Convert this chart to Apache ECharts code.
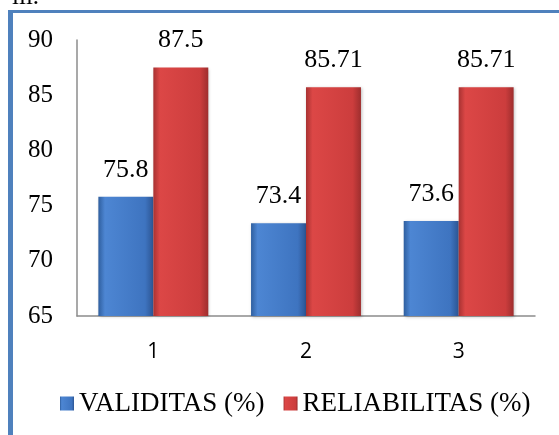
<!DOCTYPE html>
<html>
<head>
<meta charset="utf-8">
<script src="https://cdn.jsdelivr.net/npm/echarts@6/dist/echarts.min.js"></script>
<style>
html, body { margin: 0; padding: 0; background: #fff; }
#chart { width: 559px; height: 435px; }
</style>
</head>
<body>
<div id="chart"></div>
<script>
// data
const categories = ['1', '2', '3'];
const validitas = [75.8, 73.4, 73.6];
const reliabilitas = [87.5, 85.71, 85.71];
const yTicks = [65, 70, 75, 80, 85, 90];

const serif = 'Liberation Serif';

function bevel (edge, light, mid, dark) {
  return {
    type: 'linear', x: 0, y: 0, x2: 1, y2: 0,
    colorStops: [
      { offset: 0, color: edge },
      { offset: 0.12, color: light },
      { offset: 0.85, color: mid },
      { offset: 1, color: dark }
    ]
  };
}

const chart = echarts.init(document.getElementById('chart'));
chart.setOption({
  animation: false,
  grid: { left: 77, right: 24, top: 40, bottom: 119 },
  graphic: [
    { type: 'rect', shape: { x: 8, y: 10, width: 551, height: 3 }, style: { fill: '#4f81bd' } },
    { type: 'rect', shape: { x: 8, y: 10, width: 5, height: 425 }, style: { fill: '#4f81bd' } },
    {
      type: 'text', x: 12, y: 10,
      style: { text: 'iii.', fontSize: 25, fontFamily: serif, fill: '#000', verticalAlign: 'bottom' }
    }
  ],
  legend: {
    bottom: 13,
    left: 55,
    itemWidth: 14,
    itemHeight: 14,
    itemGap: 19,
    icon: 'rect',
    textStyle: { fontFamily: serif, fontSize: 27, color: '#000' },
    data: ['VALIDITAS (%)', 'RELIABILITAS (%)']
  },
  xAxis: {
    type: 'category',
    data: categories,
    axisLine: { lineStyle: { color: '#8c8c8c', width: 1.5 } },
    axisTick: { show: false },
    axisLabel: { color: '#000', fontSize: 21, fontFamily: 'Open Sans', margin: 26 }
  },
  yAxis: {
    type: 'value',
    min: yTicks[0],
    max: yTicks[yTicks.length - 1],
    interval: 5,
    axisLine: { show: true, lineStyle: { color: '#8c8c8c', width: 1.5 } },
    axisTick: { show: false },
    splitLine: { show: false },
    axisLabel: { color: '#000', fontSize: 25, fontFamily: serif, margin: 24 }
  },
  series: [
    {
      name: 'VALIDITAS (%)',
      type: 'bar',
      data: validitas,
      barGap: '0%',
      barCategoryGap: '28%',
      itemStyle: {
        color: bevel('#2f5f9f', '#4d86d3', '#3e74c0', '#2c5593'),
        shadowColor: 'rgba(0,0,0,0.25)', shadowBlur: 3, shadowOffsetX: 1, shadowOffsetY: 1
      },
      label: { show: true, position: 'top', distance: 14, color: '#000', fontSize: 26, fontFamily: serif }
    },
    {
      name: 'RELIABILITAS (%)',
      type: 'bar',
      data: reliabilitas,
      itemStyle: {
        color: bevel('#a83232', '#dc4746', '#cc3d3d', '#9e2e2e'),
        shadowColor: 'rgba(0,0,0,0.25)', shadowBlur: 3, shadowOffsetX: 1, shadowOffsetY: 1
      },
      label: { show: true, position: 'top', distance: 14, color: '#000', fontSize: 26, fontFamily: serif }
    }
  ]
});
</script>
</body>
</html>
